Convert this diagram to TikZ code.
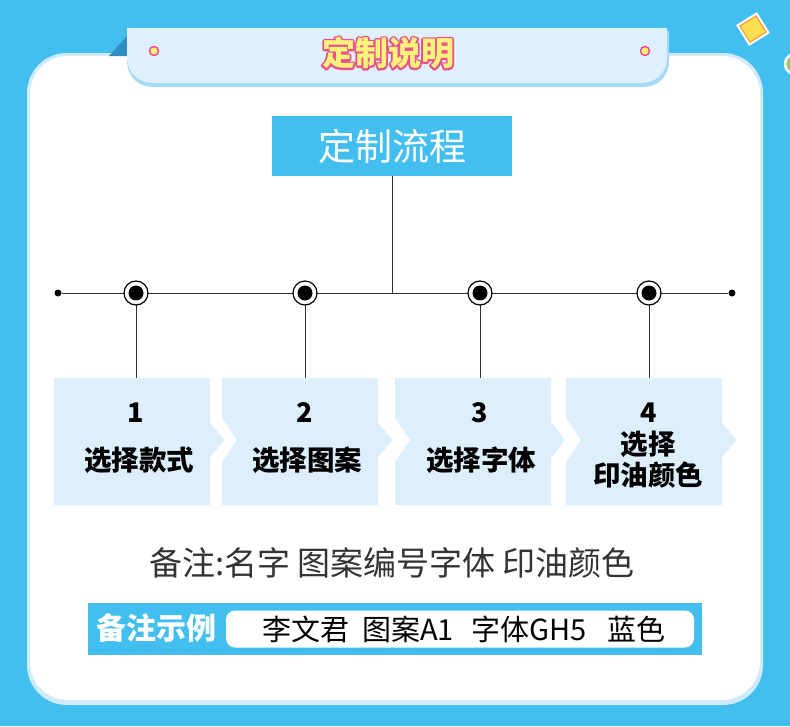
\documentclass[tikz,border=0pt]{standalone}
\usepackage{fontspec}
\setmainfont{Noto Sans CJK SC}
\usetikzlibrary{calc}
\definecolor{bgblue}{HTML}{42BEEF}
\definecolor{boxfill}{HTML}{DCEFFA}
\definecolor{cardedge}{HTML}{CFEAF8}
\definecolor{bannerfill}{HTML}{DDF0FB}
\definecolor{bannershade}{HTML}{A6D9F4}
\definecolor{tabdark}{HTML}{2F8EC0}
\definecolor{pinkline}{HTML}{E8528C}
\definecolor{yellowfill}{HTML}{FFF27A}
\definecolor{diamondedge}{HTML}{F4A23A}
\definecolor{diamondfill}{HTML}{FFDF4F}
\definecolor{greendot}{HTML}{9CCB5C}
\definecolor{linegray}{HTML}{333333}
\begin{document}
\begin{tikzpicture}[x=1pt,y=-1pt,
  hdr/.style={fill=bgblue,text=white,minimum width=240pt,minimum height=60pt,inner sep=0pt,font=\fontsize{37}{44}\selectfont},
  stepfill/.style={fill=boxfill},
  numtext/.style={font=\bfseries\fontsize{27}{32}\selectfont,text=black,inner sep=0pt},
  labtext/.style={font=\bfseries\fontsize{27.5}{31}\selectfont,text=black,inner sep=0pt,align=center},
  conn/.style={draw=linegray,line width=1pt},
  ring/.style={circle,draw=black,line width=1.2pt,fill=white,minimum size=24pt,inner sep=0pt},
  core/.style={circle,fill=black,minimum size=15pt,inner sep=0pt},
  enddot/.style={circle,fill=black,minimum size=7pt,inner sep=0pt}
]
\useasboundingbox (0,0) rectangle (790,726);
\fill[bgblue] (0,0) rectangle (790,726);
% decorations
\draw[white,line width=2.5pt,fill=diamondfill,rotate around={32:(753,29)}] (742,18) rectangle (764,40);
\draw[diamondedge,line width=1.3pt,rotate around={32:(753,29)}] (743.5,19.5) rectangle (762.5,38.5);
\draw[white,line width=2.5pt,fill=greendot] (795,64) circle (10);
% card
\fill[cardedge,rounded corners=40pt] (27,53) rectangle (763,705);
\fill[white,rounded corners=38pt] (30,56) rectangle (760,700);
% banner
\fill[tabdark] (109,56) -- (127,36) -- (127,56) -- cycle;
\fill[bannershade] (127,31) -- (669,31) -- (669,60) .. controls (669,78) and (657,87) .. (642,87) -- (154,87) .. controls (139,87) and (127,78) .. (127,60) -- cycle;
\fill[bannerfill] (127,28) -- (667,28) -- (667,57) .. controls (667,74) and (655,83) .. (640,83) -- (154,83) .. controls (139,83) and (127,74) .. (127,57) -- cycle;
\draw[pinkline,line width=1.5pt,fill=yellowfill] (154,51) circle (4.5);
\draw[pinkline,line width=1.5pt,fill=yellowfill] (645,51) circle (4.5);
\node[font=\bfseries\fontsize{33}{38}\selectfont,text=yellowfill] (title) at (388,53) {\rlap{\special{pdf:code q 1 Tr 3.6 w 1 J 1 j 0.91 0.32 0.55 RG}定制说明\special{pdf:code Q}}定制说明};
% header
\node[hdr] (hdr) at (392,146) {定制流程};
% timeline
\node[enddot] (L) at (58,293) {};
\node[enddot] (R) at (732,293) {};
\coordinate (J) at (392,293);
\draw[conn] (L) -- (R);
\draw[conn] (hdr.south) -- (J);
\foreach \i/\x in {1/136,2/305,3/480,4/649}{
  \coordinate (b\i) at (\x,378);
  \draw[conn] (\x,293) -- (b\i);
  \node[ring] (c\i) at (\x,293) {};
  \node[core] at (c\i) {};
}
% boxes
\fill[stepfill] (54,378) -- (210,378) -- (210,422) -- (224,440) -- (210,458) -- (210,505) -- (54,505) -- cycle;
\foreach \x in {222,395,566}{
  \fill[stepfill] (\x,378) -- (\x+156,378) -- (\x+156,422) -- (\x+170,440) -- (\x+156,458) -- (\x+156,505) -- (\x,505) -- (\x,462) -- (\x+15,440) -- (\x,418) -- cycle;
}
% texts
\node[numtext] (n1) at (136,413) {1};
\node[labtext] (t1) at (139,460) {选择款式};
\node[numtext] (n2) at (305,413) {2};
\node[labtext] (t2) at (307,460) {选择图案};
\node[numtext] (n3) at (480,413) {3};
\node[labtext] (t3) at (481,460) {选择字体};
\node[numtext] (n4) at (649,413) {4};
\node[labtext] (t4) at (648,460) {选择\\印油颜色};
% note
\node[text=linegray,font=\fontsize{33}{38}\selectfont] (note) at (392,563) {备注:名字 图案编号字体 印油颜色};
% example bar
\fill[bgblue] (88,603) rectangle (702,655);
\node[text=white,font=\bfseries\fontsize{30}{34}\selectfont,inner sep=0pt] (exlab) at (156,628) {备注示例};
\node[fill=white,rounded corners=9pt,minimum width=468pt,minimum height=37pt,inner sep=0pt] (exbox) at (460,629) {};
\node[text=black,font=\fontsize{29}{33}\selectfont,inner sep=0pt,anchor=west] (extext) at (262,629) {李文君\hspace{13pt}图案A1\hspace{18pt}字体GH5\hspace{20pt}蓝色};
\end{tikzpicture}
\end{document}
